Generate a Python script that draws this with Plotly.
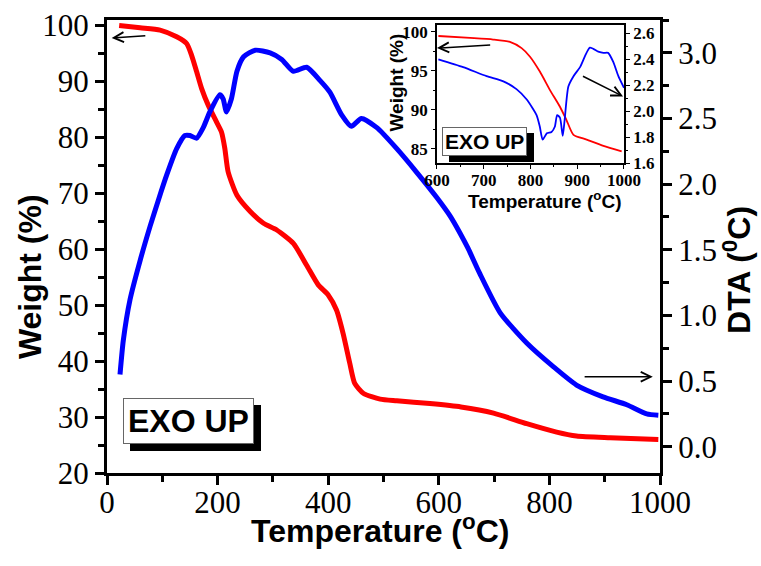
import plotly.graph_objects as go

# ---------------- main panel data ----------------
temp_weight = [22, 60, 96, 126, 144, 153, 162, 171, 183, 198, 207, 213, 219, 235, 259, 283, 307,
               337, 361, 382, 400, 415, 427, 439, 448, 464, 494, 524, 584, 640, 699, 759, 813,
               849, 910, 997]
weight = [99.9, 99.5, 99.1, 97.9, 96.7, 94.6, 91.7, 88.7, 85.7, 82.7, 80.9, 78.0, 73.8, 69.6, 66.7,
          64.6, 63.4, 61.0, 57.1, 53.6, 51.8, 49.1, 44.9, 39.6, 36.0, 34.2, 33.2, 32.9, 32.4, 31.8,
          30.7, 28.8, 27.3, 26.6, 26.3, 26.0]

temp_dta = [23.5, 29.5, 41.6, 60, 78, 93, 108, 126, 141, 150, 162, 174, 186, 204, 210, 216, 225,
            235, 247, 268, 295, 316, 337, 361, 385, 403, 424, 442, 460, 488, 524, 560, 596, 620,
            638, 653, 674, 711, 759, 807, 849, 897, 940, 976, 997]
dta = [0.55, 0.81, 1.12, 1.42, 1.68, 1.88, 2.07, 2.27, 2.37, 2.37, 2.35, 2.43, 2.55, 2.68, 2.65,
       2.55, 2.65, 2.86, 2.97, 3.02, 3.00, 2.95, 2.86, 2.89, 2.79, 2.70, 2.53, 2.44, 2.50, 2.43,
       2.27, 2.09, 1.90, 1.76, 1.63, 1.51, 1.32, 1.02, 0.79, 0.61, 0.47, 0.38, 0.32, 0.25, 0.24]

# ---------------- inset data ----------------
inset_temp_weight = [603, 671, 720, 756, 781, 799, 820, 842, 863, 877, 892, 920, 956, 995]
inset_weight = [99.45, 99.2, 99.0, 98.7, 97.9, 96.8, 94.9, 92.5, 90.4, 88.7, 86.8, 86.2, 85.4, 84.7]

inset_temp_dta = [603, 656, 706, 742, 770, 792, 813, 820, 826, 835, 845, 852, 857, 863, 869, 873,
                  881, 892, 906, 927, 945, 956, 966, 977, 988, 1000]
inset_dta = [2.40, 2.34, 2.27, 2.23, 2.17, 2.09, 1.97, 1.88, 1.78, 1.83, 1.84, 1.88, 1.97, 1.95,
             1.81, 1.93, 2.19, 2.27, 2.34, 2.49, 2.46, 2.45, 2.45, 2.38, 2.27, 2.18]

RED = "#FF0000"
BLUE = "#0000FF"
SERIF = "Liberation Serif"
SANS = "Liberation Sans"

fig = go.Figure()
fig.add_trace(go.Scatter(x=temp_weight, y=weight, mode="lines", xaxis="x", yaxis="y",
                         line=dict(color=RED, width=5, shape="spline", smoothing=0.6)))
fig.add_trace(go.Scatter(x=temp_dta, y=dta, mode="lines", xaxis="x", yaxis="y2",
                         line=dict(color=BLUE, width=5, shape="spline", smoothing=0.6)))
fig.add_trace(go.Scatter(x=inset_temp_weight, y=inset_weight, mode="lines", xaxis="x2", yaxis="y3",
                         line=dict(color=RED, width=1.8, shape="spline", smoothing=0.6)))
fig.add_trace(go.Scatter(x=inset_temp_dta, y=inset_dta, mode="lines", xaxis="x2", yaxis="y4",
                         line=dict(color=BLUE, width=1.8, shape="spline", smoothing=0.6)))

main_tick_font = dict(family=SERIF, size=31, color="black")
inset_tick_font = dict(family=SERIF, size=17, color="black", weight="bold")

common_main = dict(showline=True, linecolor="black", linewidth=3, ticks="outside", ticklen=9,
                   tickwidth=2.5, tickcolor="black", showgrid=False, zeroline=False,
                   tickfont=main_tick_font, automargin=False)
common_inset = dict(showline=True, linecolor="black", linewidth=1.5, ticks="outside", ticklen=4,
                    tickwidth=1.2, tickcolor="black", showgrid=False, zeroline=False,
                    tickfont=inset_tick_font, automargin=False)

ix0, ix1 = 0.5967, 0.9349
iy0, iy1 = 0.6843, 0.989

fig.update_layout(
    width=761, height=566, autosize=False,
    margin=dict(l=107, r=101, t=20, b=93, autoexpand=False),
    paper_bgcolor="white", plot_bgcolor="white", showlegend=False,
    xaxis=dict(range=[0, 1000], dtick=200, mirror=True, ticklabelstandoff=-9,
               minor=dict(dtick=100, ticks="outside", ticklen=6, tickwidth=2.5, tickcolor="black"),
               **common_main),
    yaxis=dict(range=[20, 100.9], dtick=10,
               minor=dict(dtick=5, ticks="outside", ticklen=6, tickwidth=2.5, tickcolor="black"),
               **common_main),
    yaxis2=dict(range=[-0.2, 3.25], dtick=0.5, tick0=0, tickformat=".1f", overlaying="y",
                side="right", anchor="x",
                minor=dict(dtick=0.25, ticks="outside", ticklen=6, tickwidth=2.5, tickcolor="black"),
                **common_main),
    xaxis2=dict(domain=[ix0, ix1], anchor="y3", range=[600, 1000], dtick=100, mirror=True,
                ticklabelstandoff=-3,
                minor=dict(dtick=50, ticks="outside", ticklen=2, tickwidth=1, tickcolor="black"),
                **common_inset),
    yaxis3=dict(domain=[iy0, iy1], anchor="x2", range=[83.2, 100.86], dtick=5,
                minor=dict(dtick=2.5, ticks="outside", ticklen=2, tickwidth=1, tickcolor="black"),
                **common_inset),
    yaxis4=dict(domain=[iy0, iy1], anchor="x2", overlaying="y3", side="right",
                range=[1.6, 2.665], dtick=0.2, tick0=1.6, tickformat=".1f",
                minor=dict(dtick=0.1, ticks="outside", ticklen=2, tickwidth=1, tickcolor="black"),
                **common_inset),
)

title_font = dict(family=SANS, size=32, color="black", weight="bold")
inset_title_font = dict(family=SANS, size=19, color="black", weight="bold")

annotations = [
    # main axis titles
    dict(text="Temperature (<sup>o</sup>C)", x=0.4937, y=-0.123, xref="paper", yref="paper",
         showarrow=False, font=title_font, xanchor="center", yanchor="middle"),
    dict(text="Weight (%)", x=-0.139, y=0.4327, xref="paper", yref="paper", textangle=-90,
         showarrow=False, font=title_font, xanchor="center", yanchor="middle"),
    dict(text="DTA (<sup>0</sup>C)", x=1.139, y=0.448, xref="paper", yref="paper", textangle=-90,
         showarrow=False, font=title_font, xanchor="center", yanchor="middle"),
    # inset axis titles
    dict(text="Temperature (<sup>o</sup>C)", x=0.792, y=0.6026, xref="paper", yref="paper",
         showarrow=False, font=inset_title_font, xanchor="center", yanchor="middle"),
    dict(text="Weight (%)", x=0.5244, y=0.862, xref="paper", yref="paper", textangle=-90,
         showarrow=False, font=inset_title_font, xanchor="center", yanchor="middle"),
    # EXO UP main (shadow then box)
    dict(text="EXO UP", x=0.1477, y=0.1148, xref="paper", yref="paper", showarrow=False,
         xanchor="center", yanchor="middle",
         font=dict(family=SANS, size=32, color="black", weight="bold"), bgcolor="black",
         bordercolor="black", borderwidth=1, borderpad=4, xshift=7, yshift=-7),
    dict(text="EXO UP", x=0.1477, y=0.1148, xref="paper", yref="paper", showarrow=False,
         xanchor="center", yanchor="middle",
         font=dict(family=SANS, size=32, color="black", weight="bold"), bgcolor="white",
         bordercolor="#666666", borderwidth=1, borderpad=4),
    # EXO UP inset
    dict(text="EXO UP", x=0.6823, y=0.7307, xref="paper", yref="paper", showarrow=False,
         xanchor="center", yanchor="middle",
         font=dict(family=SANS, size=21, color="black", weight="bold"), bgcolor="black",
         bordercolor="black", borderwidth=1, borderpad=2, xshift=7, yshift=-6),
    dict(text="EXO UP", x=0.6823, y=0.7307, xref="paper", yref="paper", showarrow=False,
         xanchor="center", yanchor="middle",
         font=dict(family=SANS, size=21, color="black", weight="bold"), bgcolor="white",
         bordercolor="#666666", borderwidth=1, borderpad=2),
    # arrows
    dict(text="", x=8.5, y=97.7, ax=72, ay=98.1, xref="x", yref="y", axref="x", ayref="y",
         showarrow=True, arrowhead=5, arrowsize=1.3, arrowwidth=1.5, arrowcolor="black"),
    dict(text="", x=987, y=0.533, ax=861, ay=0.533, xref="x", yref="y2", axref="x", ayref="y2",
         showarrow=True, arrowhead=5, arrowsize=1.3, arrowwidth=1.5, arrowcolor="black"),
    dict(text="", x=600, y=97.9, ax=717, ay=98.3, xref="x2", yref="y3", axref="x2", ayref="y3",
         showarrow=True, arrowhead=5, arrowsize=1.3, arrowwidth=1.5, arrowcolor="black"),
    dict(text="", x=998, y=2.114, ax=909, ay=2.275, xref="x2", yref="y4", axref="x2", ayref="y4",
         showarrow=True, arrowhead=5, arrowsize=1.3, arrowwidth=1.5, arrowcolor="black"),
]
fig.update_layout(annotations=annotations)

fig.write_html("out.html", config={"displayModeBar": False},
               post_script="document.body.style.margin='0';")
